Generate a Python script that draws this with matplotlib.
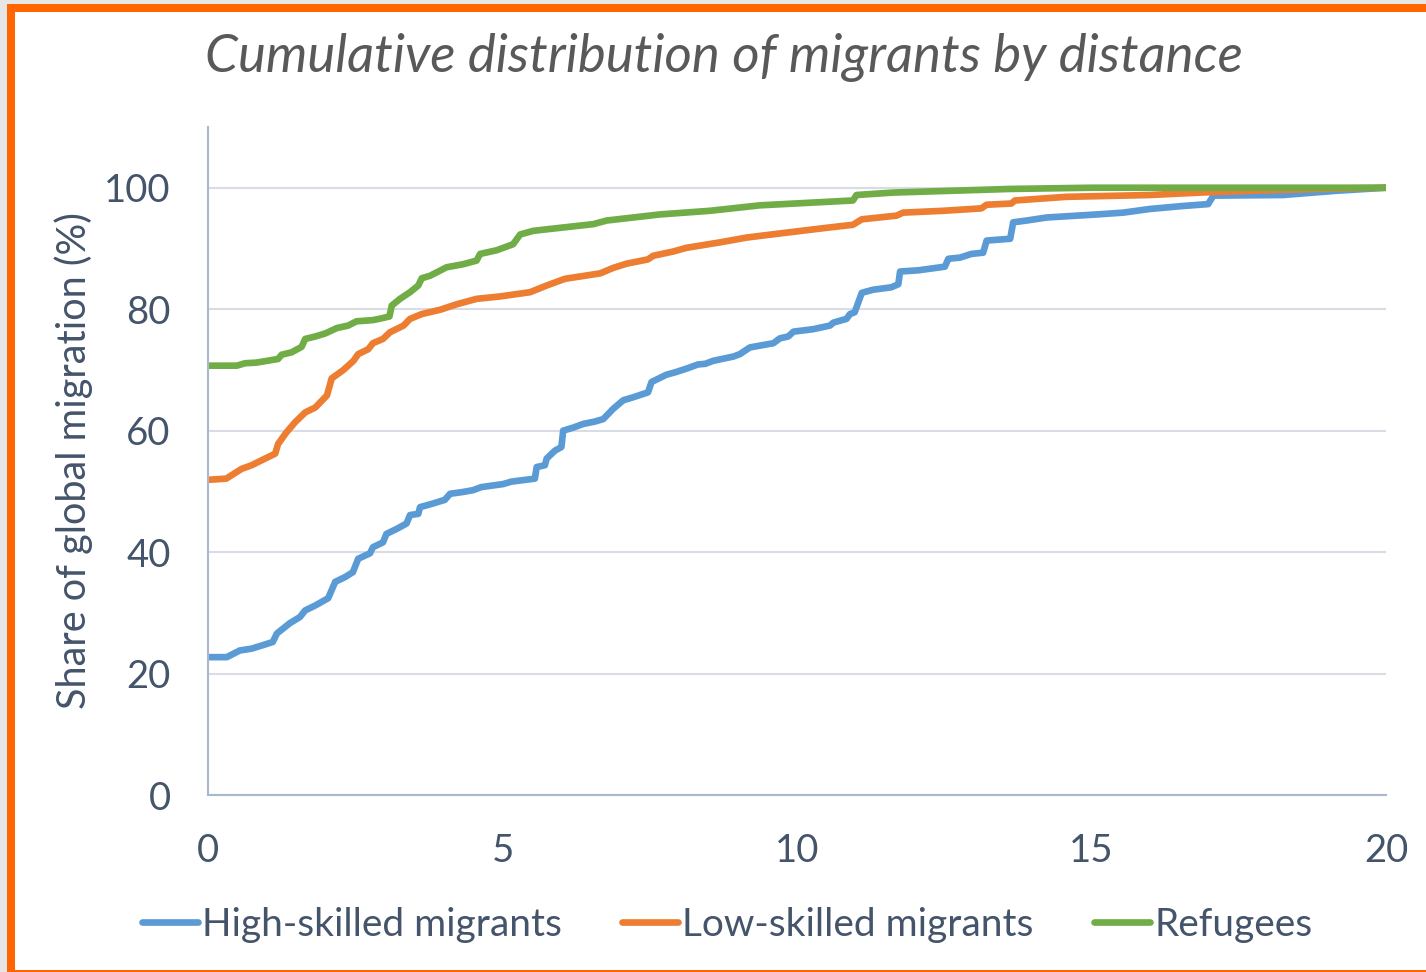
import matplotlib.pyplot as plt
from matplotlib.patches import Rectangle

# distance (x) and cumulative share of global migration (%)
high_x = [0, 0.32, 0.54, 0.74, 0.94, 1.1, 1.17, 1.39, 1.56, 1.65, 1.82, 2.04, 2.16, 2.33, 2.46,
          2.55, 2.75, 2.8, 2.97, 3.03, 3.2, 3.37, 3.43, 3.57, 3.6, 3.82, 4.02, 4.11, 4.33, 4.5,
          4.64, 5.01, 5.15, 5.55, 5.58, 5.72, 5.75, 5.89, 6.0, 6.03, 6.2, 6.37, 6.57, 6.71, 6.88,
          7.05, 7.22, 7.47, 7.53, 7.78, 7.93, 8.12, 8.32, 8.44, 8.58, 8.92, 9.03, 9.2, 9.37, 9.6,
          9.71, 9.85, 9.94, 10.27, 10.56, 10.62, 10.84, 10.9, 10.98, 11.1, 11.29, 11.6, 11.72, 11.75, 12.06,
          12.51, 12.57, 12.77, 12.96, 13.16, 13.22, 13.62, 13.67, 13.9, 14.24, 15.09, 15.54, 15.99, 16.56, 16.98,
          17.07, 18.25, 19.16, 20]
high_y = [22.7, 22.7, 23.8, 24.1, 24.7, 25.2, 26.6, 28.3, 29.3, 30.4, 31.2, 32.4, 35.1, 35.9, 36.7,
          38.9, 39.8, 40.8, 41.6, 43.0, 43.8, 44.7, 46.1, 46.3, 47.4, 48.0, 48.6, 49.6, 49.9, 50.2,
          50.7, 51.2, 51.6, 52.1, 54.0, 54.3, 55.4, 56.7, 57.3, 60.0, 60.5, 61.1, 61.5, 61.9, 63.6,
          65.0, 65.5, 66.3, 68.0, 69.2, 69.6, 70.2, 70.9, 71.0, 71.5, 72.2, 72.6, 73.7, 74.0, 74.4,
          75.2, 75.5, 76.3, 76.7, 77.3, 77.8, 78.4, 79.2, 79.5, 82.7, 83.2, 83.6, 84.1, 86.2, 86.4,
          87.0, 88.3, 88.5, 89.1, 89.3, 91.3, 91.6, 94.3, 94.6, 95.1, 95.6, 95.9, 96.5, 97.0, 97.3,
          98.7, 98.8, 99.5, 100]

low_x = [0, 0.31, 0.57, 0.74, 0.97, 1.14, 1.19, 1.33, 1.48, 1.65, 1.82, 2.02, 2.1, 2.3, 2.47,
         2.55, 2.72, 2.8, 2.97, 3.09, 3.32, 3.43, 3.63, 3.94, 4.22, 4.56, 4.96, 5.47, 5.75, 6.06,
         6.66, 6.88, 7.11, 7.47, 7.56, 7.9, 8.12, 8.69, 9.15, 9.65, 10.5, 10.95, 11.1, 11.69, 11.8,
         12.48, 13.13, 13.22, 13.64, 13.7, 14.57, 15.99, 16.84, 17.69, 18.82, 20]
low_y = [51.9, 52.1, 53.7, 54.3, 55.4, 56.2, 57.8, 59.7, 61.4, 63.0, 63.8, 65.8, 68.6, 70.0, 71.5,
         72.6, 73.4, 74.4, 75.1, 76.2, 77.3, 78.4, 79.2, 79.9, 80.8, 81.7, 82.1, 82.8, 83.9, 85.0,
         85.9, 86.8, 87.5, 88.2, 88.8, 89.5, 90.1, 91.0, 91.8, 92.4, 93.4, 93.9, 94.8, 95.4, 95.9,
         96.2, 96.6, 97.2, 97.4, 97.9, 98.5, 98.8, 99.2, 99.5, 99.8, 100]

ref_x = [0, 0.49, 0.63, 0.82, 1.19, 1.25, 1.42, 1.59, 1.65, 1.82, 1.99, 2.19, 2.38, 2.52, 2.8,
         2.95, 3.08, 3.12, 3.26, 3.43, 3.57, 3.63, 3.77, 4.05, 4.33, 4.56, 4.62, 4.9, 5.18, 5.3,
         5.52, 5.98, 6.54, 6.77, 7.67, 8.52, 9.37, 10.95, 11.01, 11.63, 13.62, 15.0, 20]
ref_y = [70.7, 70.7, 71.1, 71.2, 71.8, 72.5, 72.9, 73.8, 75.1, 75.5, 76.0, 76.9, 77.3, 78.0, 78.2,
         78.5, 78.8, 80.6, 81.7, 82.8, 83.9, 85.1, 85.5, 86.9, 87.4, 88.0, 89.1, 89.7, 90.7, 92.3,
         92.9, 93.4, 94.0, 94.6, 95.6, 96.2, 97.1, 97.9, 98.8, 99.2, 99.8, 100, 100]

series = [
    ('High-skilled migrants', high_x, high_y, '#5B9BD5'),
    ('Low-skilled migrants', low_x, low_y, '#ED7D31'),
    ('Refugees', ref_x, ref_y, '#70AD47'),
]

text_color = '#44546A'
plt.rcParams['font.family'] = ['Lato', 'DejaVu Sans']

W, H = 1426, 972
fig = plt.figure(figsize=(W / 100, H / 100), dpi=100)
fig.patch.set_facecolor('#E6E6E6')

# orange frame (slide border)
fig.add_artist(Rectangle((7 / W, 0), 1, 1 - 4 / H, transform=fig.transFigure,
                         facecolor='#FF6600', edgecolor='none', zorder=-10))
fig.add_artist(Rectangle((15 / W, 2 / H), 1, 1 - 14 / H, transform=fig.transFigure,
                         facecolor='white', edgecolor='none', zorder=-9))

ax = fig.add_axes([208 / W, 1 - 795 / H, (1386 - 208) / W, (795 - 127) / H])
ax.set_facecolor('none')

for name, xs, ys, color in series:
    ax.plot(xs, ys, color=color, lw=4.8, label=name,
            solid_capstyle='round', solid_joinstyle='round')

ax.set_xlim(0, 20)
ax.set_ylim(0, 110)
ax.set_xticks([0, 5, 10, 15, 20])
ax.set_yticks([0, 20, 40, 60, 80, 100])
ax.grid(axis='y', color='#D9DCE5', lw=1.5)
ax.set_axisbelow(True)
for s in ['top', 'right']:
    ax.spines[s].set_visible(False)
for s in ['left', 'bottom']:
    ax.spines[s].set_color('#A9B7CF')
    ax.spines[s].set_linewidth(1.5)
ax.tick_params(length=0, labelsize=27.5, labelcolor=text_color)
ax.tick_params(axis='y', pad=27)
ax.tick_params(axis='x', pad=27)
ax.set_ylabel('Share of global migration (%)', fontsize=28.5, color=text_color, labelpad=8)

fig.text(724 / W, 1 - 57 / H, 'Cumulative distribution of migrants by distance',
         fontsize=38, style='italic', color='#595959', ha='center', va='center')

fig.legend(loc='center', bbox_to_anchor=(727 / W, 1 - 925 / H), ncol=3, frameon=False,
           fontsize=28, labelcolor=text_color, handlelength=1.45, handletextpad=0.1,
           columnspacing=1.55)

fig.savefig('out.png', dpi=100)
